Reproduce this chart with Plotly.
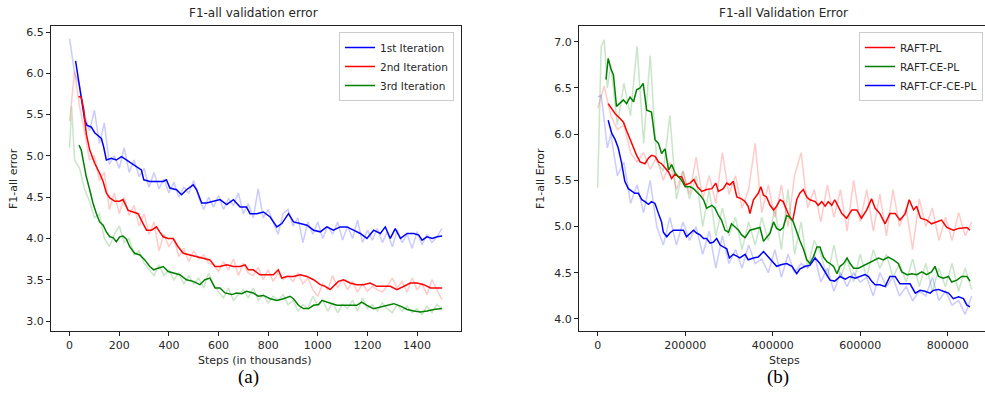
import plotly.graph_objects as go

W, H = 985, 415

# ---------------- (a) left chart: steps in thousands ----------------
a_raw_x = list(range(0, 1501, 20))
a_raw_x_green = [0, 8] + list(range(20, 1501, 20))

a_blue_raw = [6.42, 6.00, 5.85, 5.50, 5.30, 5.55, 5.15, 5.40, 4.90, 5.00,
              4.85, 5.10, 4.80, 4.95, 4.75, 4.85, 4.62, 4.80, 4.60, 4.72,
              4.55, 4.68, 4.50, 4.62, 4.55, 4.70, 4.50, 4.35, 4.50, 4.38,
              4.52, 4.35, 4.48, 4.40, 4.55, 4.30, 4.42, 4.25, 4.60, 4.25,
              4.35, 4.20, 4.05, 4.30, 4.35, 4.15, 4.25, 3.95, 4.20, 4.05,
              4.20, 4.00, 4.15, 4.05, 4.20, 3.98, 4.15, 4.00, 4.22, 3.95,
              4.10, 3.98, 4.12, 3.95, 4.08, 3.90, 4.10, 3.95, 4.05, 3.88,
              4.08, 3.92, 4.05, 3.95, 4.02, 4.12]
a_red_raw = [5.42, 6.02, 5.60, 5.30, 4.95, 5.00, 4.70, 4.80, 4.35, 4.55,
             4.30, 4.50, 4.28, 4.40, 4.15, 4.30, 4.05, 4.20, 3.85, 4.05,
             3.90, 4.00, 3.78, 3.88, 3.72, 3.85, 3.75, 3.80, 3.70, 3.68,
             3.60, 3.72, 3.62, 3.75, 3.55, 3.70, 3.58, 3.55, 3.65, 3.50,
             3.62, 3.48, 3.58, 3.50, 3.55, 3.48, 3.58, 3.45, 3.52, 3.38,
             3.30, 3.45, 3.38, 3.55, 3.40, 3.50, 3.38, 3.48, 3.35, 3.45,
             3.36, 3.42, 3.38, 3.35, 3.42, 3.52, 3.40, 3.48, 3.35, 3.52,
             3.38, 3.45, 3.32, 3.50, 3.38, 3.26]
a_green_raw = [5.10, 5.60, 4.95, 4.85, 4.60, 4.45, 4.25, 4.30, 4.00, 3.90, 4.05,
               4.15, 3.95, 4.00, 3.80, 3.85, 3.70, 3.62, 3.55, 3.68, 3.55,
               3.62, 3.50, 3.58, 3.45, 3.55, 3.45, 3.52, 3.40, 3.58, 3.45,
               3.35, 3.28, 3.40, 3.25, 3.32, 3.38, 3.28, 3.40, 3.25, 3.32,
               3.22, 3.30, 3.25, 3.32, 3.20, 3.25, 3.12, 3.20, 3.15, 3.30,
               3.18, 3.25, 3.12, 3.22, 3.10, 3.20, 3.15, 3.25, 3.12, 3.28,
               3.15, 3.20, 3.12, 3.22, 3.15, 3.10, 3.20, 3.12, 3.18, 3.10,
               3.15, 3.08, 3.18, 3.10, 3.20, 3.15]

a_blue_x = [24, 34, 47, 61, 70, 87, 101, 114, 128, 137, 148, 168, 188, 209, 229,
            249, 269, 289, 299, 323, 350, 377, 390, 404, 431, 451, 471, 498, 512, 532,
            552, 579, 606, 633, 660, 687, 713, 727, 754, 781, 808, 835, 855, 882, 902,
            929, 956, 983, 1010, 1036, 1063, 1090, 1117, 1144, 1171, 1198, 1225, 1252,
            1272, 1292, 1312, 1333, 1360, 1387, 1407, 1420, 1440, 1461, 1481, 1501]
a_blue_y = [6.15, 5.96, 5.72, 5.43, 5.37, 5.35, 5.28, 5.25, 5.21, 5.11, 4.95, 4.97,
            4.95, 4.99, 4.95, 4.91, 4.87, 4.83, 4.71, 4.69, 4.69, 4.69, 4.71, 4.61,
            4.59, 4.53, 4.59, 4.65, 4.59, 4.43, 4.43, 4.45, 4.47, 4.41, 4.47, 4.38,
            4.38, 4.30, 4.30, 4.32, 4.26, 4.14, 4.18, 4.30, 4.20, 4.18, 4.16, 4.10,
            4.08, 4.14, 4.10, 4.14, 4.14, 4.10, 4.06, 4.00, 4.10, 4.06, 4.14, 4.00,
            4.12, 4.00, 4.06, 4.06, 4.04, 3.98, 4.02, 4.00, 4.02, 4.03]
a_red_x = [36, 47, 57, 67, 81, 101, 121, 135, 148, 162, 182, 202, 215, 236, 256,
           276, 296, 310, 330, 350, 363, 377, 397, 417, 437, 458, 485, 512, 538, 565,
           586, 606, 633, 660, 687, 707, 720, 740, 767, 794, 821, 841, 855, 875, 902,
           929, 956, 983, 1010, 1030, 1050, 1063, 1083, 1104, 1130, 1157, 1184, 1211,
           1238, 1265, 1292, 1319, 1346, 1373, 1400, 1427, 1454, 1481, 1501]
a_red_y = [5.72, 5.71, 5.56, 5.27, 5.07, 4.91, 4.79, 4.69, 4.55, 4.49, 4.45, 4.45,
           4.47, 4.34, 4.32, 4.30, 4.18, 4.10, 4.10, 4.14, 4.08, 4.02, 4.00, 4.00,
           3.90, 3.82, 3.80, 3.78, 3.76, 3.74, 3.66, 3.66, 3.68, 3.66, 3.66, 3.68,
           3.62, 3.62, 3.56, 3.56, 3.56, 3.62, 3.52, 3.54, 3.54, 3.56, 3.54, 3.50,
           3.44, 3.42, 3.38, 3.42, 3.48, 3.50, 3.46, 3.44, 3.44, 3.46, 3.42, 3.42,
           3.42, 3.38, 3.42, 3.46, 3.46, 3.44, 3.40, 3.40, 3.40]
a_green_x = [38, 47, 57, 67, 81, 94, 108, 121, 135, 148, 162, 175, 188, 202, 215,
             229, 242, 262, 283, 303, 323, 339, 357, 377, 397, 417, 444, 471, 498, 525,
             545, 565, 586, 606, 626, 653, 673, 693, 713, 740, 760, 781, 808, 835, 862,
             888, 902, 922, 942, 963, 983, 1003, 1017, 1036, 1057, 1077, 1104, 1130,
             1157, 1177, 1198, 1225, 1252, 1279, 1306, 1333, 1360, 1387, 1413, 1440,
             1467, 1501]
a_green_y = [5.13, 5.07, 4.91, 4.75, 4.59, 4.43, 4.30, 4.20, 4.16, 4.08, 4.02, 4.01,
             3.96, 4.02, 4.03, 3.99, 3.90, 3.82, 3.80, 3.74, 3.66, 3.62, 3.64, 3.66,
             3.60, 3.58, 3.56, 3.50, 3.48, 3.44, 3.50, 3.52, 3.40, 3.40, 3.34, 3.32,
             3.34, 3.33, 3.36, 3.34, 3.30, 3.31, 3.27, 3.25, 3.27, 3.30, 3.27, 3.19,
             3.15, 3.15, 3.19, 3.20, 3.25, 3.23, 3.21, 3.19, 3.19, 3.19, 3.19, 3.23,
             3.19, 3.15, 3.17, 3.19, 3.21, 3.18, 3.14, 3.12, 3.11, 3.12, 3.14, 3.15]

a_ticks_x = [0, 200, 400, 600, 800, 1000, 1200, 1400]
a_ticks_y = [3.0, 3.5, 4.0, 4.5, 5.0, 5.5, 6.0, 6.5]
a_names = ["1st Iteration", "2nd Iteration", "3rd Iteration"]

# ---------------- (b) right chart: steps (values in thousands) ----------------
b_raw_x_red = list(range(0, 856, 15))
b_raw_x = [0, 8, 15, 22, 30] + list(range(45, 856, 15))

b_red_raw = [6.28, 6.52, 6.20, 6.05, 6.10, 5.80, 5.70, 5.80, 5.62, 5.75,
             5.50, 5.70, 5.40, 5.60, 5.35, 5.75, 5.30, 5.55, 5.25, 5.80,
             5.35, 5.55, 5.20, 5.40, 5.90, 5.15, 5.45, 5.10, 5.45, 5.00,
             5.55, 5.80, 5.20, 5.40, 5.05, 5.45, 5.10, 5.40, 4.95, 5.50,
             5.05, 5.40, 4.95, 5.35, 4.90, 5.40, 5.00, 5.20, 4.75, 5.30,
             5.00, 5.20, 4.85, 5.10, 4.85, 5.15, 4.90, 5.05]
b_green_raw = [5.42, 6.95, 7.02, 6.50, 6.75,
               6.10, 6.55, 6.20, 6.95, 5.90, 6.85, 5.70, 5.60, 6.20, 5.30,
               5.60, 5.30, 5.55, 5.00, 5.40, 4.90, 5.20, 4.90, 5.10, 4.75,
               5.05, 4.80, 5.10, 4.85, 5.20, 4.75, 5.40, 4.70, 5.05, 4.55,
               4.85, 4.70, 4.45, 4.80, 4.45, 4.65, 4.40, 4.70, 4.45, 4.75,
               4.55, 4.70, 4.45, 4.60, 4.40, 4.65, 4.35, 4.60, 4.30, 4.55,
               4.35, 4.60, 4.30, 4.55, 4.32]
b_blue_raw = [6.40, 6.42, 6.15, 5.85, 6.00,
              5.55, 5.70, 5.25, 5.45, 5.15, 5.50, 5.00, 4.80, 5.10, 4.80,
              5.05, 4.85, 5.00, 4.70, 4.95, 4.55, 4.90, 4.60, 4.75, 4.55,
              4.80, 4.60, 4.65, 4.50, 4.75, 4.45, 4.70, 4.50, 4.60, 4.55,
              4.70, 4.40, 4.55, 4.30, 4.50, 4.35, 4.50, 4.40, 4.45, 4.25,
              4.50, 4.35, 4.45, 4.25, 4.35, 4.20, 4.30, 4.25, 4.45, 4.20,
              4.30, 4.15, 4.20, 4.05, 4.25]

b_red_x = [24, 32, 40, 51, 59, 66, 74, 82, 89, 97, 108, 116, 123, 131, 139, 146,
           154, 162, 169, 177, 184, 192, 200, 211, 220, 228, 238, 249, 261, 270, 276,
           287, 295, 302, 310, 318, 329, 337, 344, 348, 356, 367, 373, 379, 386, 394,
           402, 409, 417, 424, 432, 440, 446, 455, 462, 470, 478, 485, 497, 504, 512,
           520, 527, 535, 542, 550, 558, 569, 581, 592, 603, 615, 626, 634, 645, 657,
           668, 680, 691, 703, 712, 722, 729, 738, 752, 763, 775, 786, 798, 813, 825,
           836, 844, 851]
b_red_y = [6.33, 6.28, 6.22, 6.17, 6.13, 6.04, 5.94, 5.86, 5.77, 5.70, 5.68, 5.74,
           5.77, 5.76, 5.70, 5.68, 5.63, 5.59, 5.52, 5.57, 5.54, 5.54, 5.45, 5.47,
           5.51, 5.43, 5.38, 5.40, 5.41, 5.47, 5.38, 5.41, 5.47, 5.45, 5.49, 5.32,
           5.30, 5.27, 5.22, 5.14, 5.29, 5.36, 5.43, 5.34, 5.32, 5.23, 5.18, 5.22,
           5.29, 5.27, 5.18, 5.09, 5.07, 5.29, 5.36, 5.40, 5.32, 5.29, 5.27, 5.23,
           5.27, 5.22, 5.27, 5.23, 5.29, 5.22, 5.14, 5.09, 5.18, 5.18, 5.09, 5.18,
           5.30, 5.20, 5.14, 5.03, 5.14, 5.14, 5.07, 5.14, 5.29, 5.18, 5.22, 5.09,
           5.07, 5.03, 5.05, 5.07, 4.99, 4.96, 4.98, 4.99, 4.99, 4.96]
b_green_x = [19, 24, 30, 36, 43, 51, 59, 66, 74, 82, 89, 97, 104, 112, 123, 131,
             139, 146, 154, 162, 169, 177, 184, 192, 200, 211, 219, 226, 234, 242, 249,
             261, 268, 276, 283, 291, 299, 306, 314, 322, 329, 337, 348, 360, 371, 379,
             386, 394, 402, 409, 417, 424, 432, 440, 447, 455, 462, 470, 478, 485, 493,
             501, 508, 516, 524, 531, 539, 547, 554, 562, 570, 577, 585, 596, 608, 619,
             630, 642, 653, 664, 676, 687, 695, 707, 718, 729, 741, 752, 763, 771, 779,
             790, 802, 809, 821, 832, 844, 851]
b_green_y = [6.59, 6.82, 6.71, 6.64, 6.30, 6.33, 6.37, 6.33, 6.40, 6.35, 6.48, 6.50,
             6.55, 6.26, 6.24, 5.94, 5.90, 5.79, 5.84, 5.61, 5.67, 5.58, 5.54, 5.50,
             5.43, 5.43, 5.41, 5.38, 5.34, 5.29, 5.20, 5.23, 5.20, 5.12, 5.07, 4.96,
             4.94, 5.03, 4.99, 4.96, 4.91, 4.88, 4.96, 4.98, 4.99, 4.84, 4.88, 4.93,
             5.05, 4.98, 4.96, 4.99, 5.12, 5.10, 5.05, 4.93, 4.85, 4.76, 4.64, 4.60,
             4.67, 4.78, 4.78, 4.67, 4.62, 4.60, 4.57, 4.49, 4.57, 4.60, 4.66, 4.60,
             4.55, 4.55, 4.58, 4.60, 4.63, 4.66, 4.64, 4.67, 4.64, 4.60, 4.51, 4.48,
             4.49, 4.48, 4.51, 4.48, 4.51, 4.57, 4.46, 4.44, 4.46, 4.40, 4.42, 4.46,
             4.46, 4.41]
b_blue_x = [24, 32, 40, 47, 55, 62, 70, 78, 85, 93, 101, 108, 116, 123, 131, 139,
            146, 150, 158, 165, 173, 184, 196, 203, 211, 219, 226, 234, 242, 249, 257,
            264, 272, 280, 287, 295, 301, 310, 318, 325, 337, 344, 356, 367, 379, 390,
            402, 409, 421, 432, 444, 455, 462, 474, 485, 497, 508, 520, 531, 542, 554,
            566, 577, 589, 600, 611, 619, 626, 634, 645, 657, 668, 680, 691, 703, 714,
            726, 737, 748, 760, 767, 779, 790, 802, 813, 825, 836, 844, 851]
b_blue_y = [6.15, 6.01, 5.94, 5.85, 5.68, 5.49, 5.41, 5.38, 5.36, 5.36, 5.29, 5.27,
            5.24, 5.27, 5.25, 5.14, 5.05, 4.94, 4.89, 4.93, 4.96, 4.96, 4.96, 4.89,
            4.93, 4.96, 4.93, 4.91, 4.87, 4.87, 4.82, 4.83, 4.87, 4.80, 4.78, 4.76,
            4.66, 4.70, 4.68, 4.66, 4.70, 4.64, 4.66, 4.67, 4.73, 4.67, 4.60, 4.57,
            4.59, 4.60, 4.57, 4.49, 4.54, 4.57, 4.58, 4.66, 4.60, 4.51, 4.42, 4.41,
            4.46, 4.43, 4.46, 4.44, 4.46, 4.48, 4.46, 4.41, 4.37, 4.37, 4.35, 4.46,
            4.46, 4.38, 4.38, 4.38, 4.28, 4.31, 4.30, 4.28, 4.31, 4.32, 4.30, 4.28,
            4.22, 4.24, 4.22, 4.15, 4.13]

b_ticks_x = [0, 200000, 400000, 600000, 800000]
b_ticks_y = [4.0, 4.5, 5.0, 5.5, 6.0, 6.5, 7.0]
b_names = ["RAFT-PL", "RAFT-CE-PL", "RAFT-CF-CE-PL"]

BLUE, RED, GREEN = "#0000ff", "#ff0000", "#008000"
K = 1000  # thousands -> steps

fig = go.Figure()

def raw(x, y, c, xa, ya):
    fig.add_trace(go.Scatter(x=x, y=y, mode="lines", xaxis=xa, yaxis=ya,
                             line=dict(color=c, width=1.5), opacity=0.2,
                             showlegend=False, hoverinfo="skip"))

def smooth(x, y, c, name, xa, ya, leg):
    fig.add_trace(go.Scatter(x=x, y=y, mode="lines", xaxis=xa, yaxis=ya,
                             line=dict(color=c, width=1.5), name=name,
                             legend=leg))

# left
raw(a_raw_x, a_blue_raw, BLUE, "x", "y")
raw(a_raw_x, a_red_raw, RED, "x", "y")
raw(a_raw_x_green, a_green_raw, GREEN, "x", "y")
smooth(a_blue_x, a_blue_y, BLUE, a_names[0], "x", "y", "legend")
smooth(a_red_x, a_red_y, RED, a_names[1], "x", "y", "legend")
smooth(a_green_x, a_green_y, GREEN, a_names[2], "x", "y", "legend")

# right
raw([v * K for v in b_raw_x_red], b_red_raw, RED, "x2", "y2")
raw([v * K for v in b_raw_x], b_green_raw, GREEN, "x2", "y2")
raw([v * K for v in b_raw_x], b_blue_raw, BLUE, "x2", "y2")
smooth([v * K for v in b_red_x], b_red_y, RED, b_names[0], "x2", "y2", "legend2")
smooth([v * K for v in b_green_x], b_green_y, GREEN, b_names[1], "x2", "y2", "legend2")
smooth([v * K for v in b_blue_x], b_blue_y, BLUE, b_names[2], "x2", "y2", "legend2")

FONT = "DejaVu Sans"
TXT = "#262626"
ax_common = dict(showline=True, linecolor="#222222", linewidth=1, mirror=True,
                 ticks="outside", ticklen=4, tickwidth=1, tickcolor="#222222",
                 showgrid=False, zeroline=False,
                 tickfont=dict(family=FONT, size=11, color=TXT))

y_top = 1 - 26 / H
y_bot = 1 - 331 / H

leg_common = dict(yanchor="top", xanchor="right", y=1 - 32 / H,
                  bgcolor="rgba(255,255,255,0.8)", bordercolor="#cccccc",
                  borderwidth=1, font=dict(family=FONT, size=10.5, color=TXT),
                  itemwidth=30, tracegroupgap=0)

fig.update_layout(
    width=W, height=H, margin=dict(l=0, r=0, t=0, b=0),
    paper_bgcolor="white", plot_bgcolor="white",
    font=dict(family=FONT, size=11, color=TXT),
    xaxis=dict(domain=[51 / W, 461 / W], range=[-75, 1577],
               tickvals=a_ticks_x, anchor="y", **ax_common),
    yaxis=dict(domain=[y_bot, y_top], range=[2.879, 6.573],
               tickvals=a_ticks_y, tickformat=".1f", anchor="x", **ax_common),
    xaxis2=dict(domain=[579 / W, 1.0], range=[-42700, 885300],
                tickvals=b_ticks_x, tickformat="d", anchor="y2", **ax_common),
    yaxis2=dict(domain=[y_bot, y_top], range=[3.87, 7.17],
                tickvals=b_ticks_y, tickformat=".1f", anchor="x2", **ax_common),
    legend=dict(x=454 / W, **leg_common),
    legend2=dict(x=983 / W, **leg_common),
)

def ann(text, x, y, size, family=FONT, angle=0, color=TXT):
    fig.add_annotation(text=text, x=x / W, y=1 - y / H, xref="paper", yref="paper",
                       showarrow=False, xanchor="center", yanchor="middle",
                       textangle=angle, font=dict(family=family, size=size, color=color))

ann("F1-all validation error", 254, 13, 12)
ann("F1-all Validation Error", 783, 13, 12)
ann("Steps (in thousands)", 255, 360, 11)
ann("Steps", 784, 360, 11)
ann("F1-all error", 13, 179, 11, angle=-90)
ann("F1-all Error", 540, 179, 11, angle=-90)
ann("(a)", 248, 377, 19, family="Liberation Serif", color="black")
ann("(b)", 778, 377, 19, family="Liberation Serif", color="black")

fig.write_html("out.html", config={"displayModeBar": False},
               post_script="document.body.style.margin='0px';"
                           "document.body.style.overflow='hidden';")
